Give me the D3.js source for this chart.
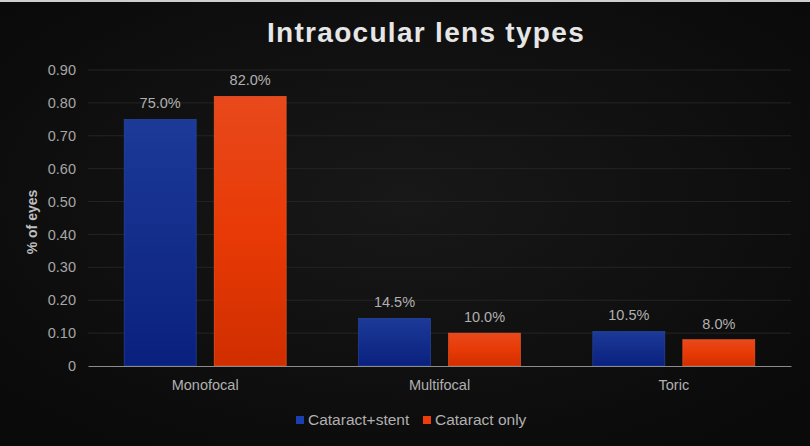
<!DOCTYPE html>
<html lang="en">
<head>
    <meta charset="UTF-8">
    <title>Intraocular lens types</title>
    <script src="https://d3js.org/d3.v7.min.js"></script>
    <style>
        html, body { margin: 0; padding: 0; background: #111; }
        svg { display: block; font-family: "Liberation Sans", Arial, sans-serif; }
    </style>
</head>
<body>
    <div id="chart"></div>
    <script>
        // data
        const categories = ["Monofocal", "Multifocal", "Toric"];
        const seriesNames = ["Cataract+stent", "Cataract only"];
        const stentValues = [0.75, 0.145, 0.105];
        const onlyValues = [0.82, 0.10, 0.08];
        const yTicks = [0, 0.1, 0.2, 0.3, 0.4, 0.5, 0.6, 0.7, 0.8, 0.9];

        const W = 810, H = 446;
        const margin = { top: 70, right: 19, bottom: 80, left: 88 };
        const width = W - margin.left - margin.right;
        const height = H - margin.top - margin.bottom;
        const FONT = "'Liberation Sans', Arial, sans-serif";

        const svg = d3.select("#chart").append("svg")
            .attr("width", W)
            .attr("height", H);

        const defs = svg.append("defs");
        const bg = defs.append("radialGradient").attr("id", "bg")
            .attr("cx", "50%").attr("cy", "45%").attr("r", "65%");
        bg.append("stop").attr("offset", "0%").attr("stop-color", "#181818");
        bg.append("stop").attr("offset", "100%").attr("stop-color", "#0a0a0a");

        const gBlue = defs.append("linearGradient").attr("id", "gBlue")
            .attr("x1", 0).attr("y1", 0).attr("x2", 0).attr("y2", 1);
        gBlue.append("stop").attr("offset", "0%").attr("stop-color", "#1c3a98");
        gBlue.append("stop").attr("offset", "100%").attr("stop-color", "#0a207e");

        const gOrange = defs.append("linearGradient").attr("id", "gOrange")
            .attr("x1", 0).attr("y1", 0).attr("x2", 0).attr("y2", 1);
        gOrange.append("stop").attr("offset", "0%").attr("stop-color", "#e8491c");
        gOrange.append("stop").attr("offset", "50%").attr("stop-color", "#e83a06");
        gOrange.append("stop").attr("offset", "100%").attr("stop-color", "#d02e00");

        svg.append("rect").attr("width", W).attr("height", H).attr("fill", "url(#bg)");
        // thin light border line at the very top
        svg.append("rect").attr("width", W).attr("height", 2).attr("fill", "#cfcfcf");

        // title
        svg.append("text")
            .attr("x", 426)
            .attr("y", 42)
            .attr("text-anchor", "middle")
            .attr("fill", "#e6e6e6")
            .attr("font-size", "28px")
            .attr("font-weight", "bold")
            .attr("letter-spacing", "1.3px")
            .text("Intraocular lens types");

        const g = svg.append("g")
            .attr("transform", `translate(${margin.left},${margin.top})`);

        const x0 = d3.scaleBand().domain(categories).range([0, width]).paddingInner(0).paddingOuter(0);
        const y = d3.scaleLinear().domain([0, 0.9]).range([height, 0]);

        // gridlines
        g.selectAll(".grid").data(yTicks.filter(d => d > 0)).enter().append("line")
            .attr("x1", 0).attr("x2", width)
            .attr("y1", d => y(d)).attr("y2", d => y(d))
            .attr("stroke", "#242424").attr("stroke-width", 1);

        // y axis labels
        const yAxis = g.append("g")
            .call(d3.axisLeft(y).tickValues(yTicks).tickSize(0).tickPadding(12)
                .tickFormat(d => d === 0 ? "0" : d3.format(".2f")(d)));
        yAxis.select(".domain").remove();
        yAxis.selectAll("text").attr("fill", "#a6a6a6").attr("font-size", "14.5px")
            .attr("font-family", FONT);

        // y title
        svg.append("text")
            .attr("transform", `translate(37,222) rotate(-90)`)
            .attr("text-anchor", "middle")
            .attr("fill", "#bfbfbf")
            .attr("font-size", "14px")
            .attr("font-weight", "bold")
            .text("% of eyes");

        // bars
        const barW = 72, gap = 18;
        const series = [
            { name: seriesNames[0], values: stentValues, fill: "url(#gBlue)", stroke: "#2a4aa8", off: -gap / 2 - barW },
            { name: seriesNames[1], values: onlyValues, fill: "url(#gOrange)", stroke: "#f05a2a", off: gap / 2 }
        ];

        series.forEach(s => {
            const cx = i => x0(categories[i]) + x0.bandwidth() / 2;
            g.selectAll(null).data(s.values).enter().append("rect")
                .attr("x", (d, i) => cx(i) + s.off)
                .attr("y", d => y(d))
                .attr("width", barW)
                .attr("height", d => height - y(d))
                .attr("fill", s.fill)
                .attr("stroke", s.stroke)
                .attr("stroke-width", 0.6);

            g.selectAll(null).data(s.values).enter().append("text")
                .attr("x", (d, i) => cx(i) + s.off + barW / 2)
                .attr("y", d => y(d) - 11)
                .attr("text-anchor", "middle")
                .attr("fill", "#b0b0b0")
                .attr("font-size", "14.5px")
                .text(d => d3.format(".1%")(d));
        });

        // x axis
        const xAxis = g.append("g")
            .attr("transform", `translate(0,${height})`)
            .call(d3.axisBottom(x0).tickSize(0).tickPadding(14));
        xAxis.select(".domain").attr("stroke", "#8c8c8c").attr("stroke-width", 1.2);
        xAxis.selectAll("text").attr("fill", "#b0b0b0").attr("font-size", "14.5px")
            .attr("font-family", FONT);

        // legend
        const legend = svg.append("g").attr("transform", "translate(296,412)");
        const legendItems = [
            { name: seriesNames[0], color: "#1a3fb0", x: 0 },
            { name: seriesNames[1], color: "#ec3d0c", x: 127 }
        ];
        legendItems.forEach(it => {
            legend.append("rect")
                .attr("x", it.x).attr("y", 4)
                .attr("width", 8).attr("height", 8)
                .attr("fill", it.color);
            legend.append("text")
                .attr("x", it.x + 12).attr("y", 13)
                .attr("fill", "#b0b0b0")
                .attr("font-size", "15.5px")
                .text(it.name);
        });
    </script>
</body>
</html>
